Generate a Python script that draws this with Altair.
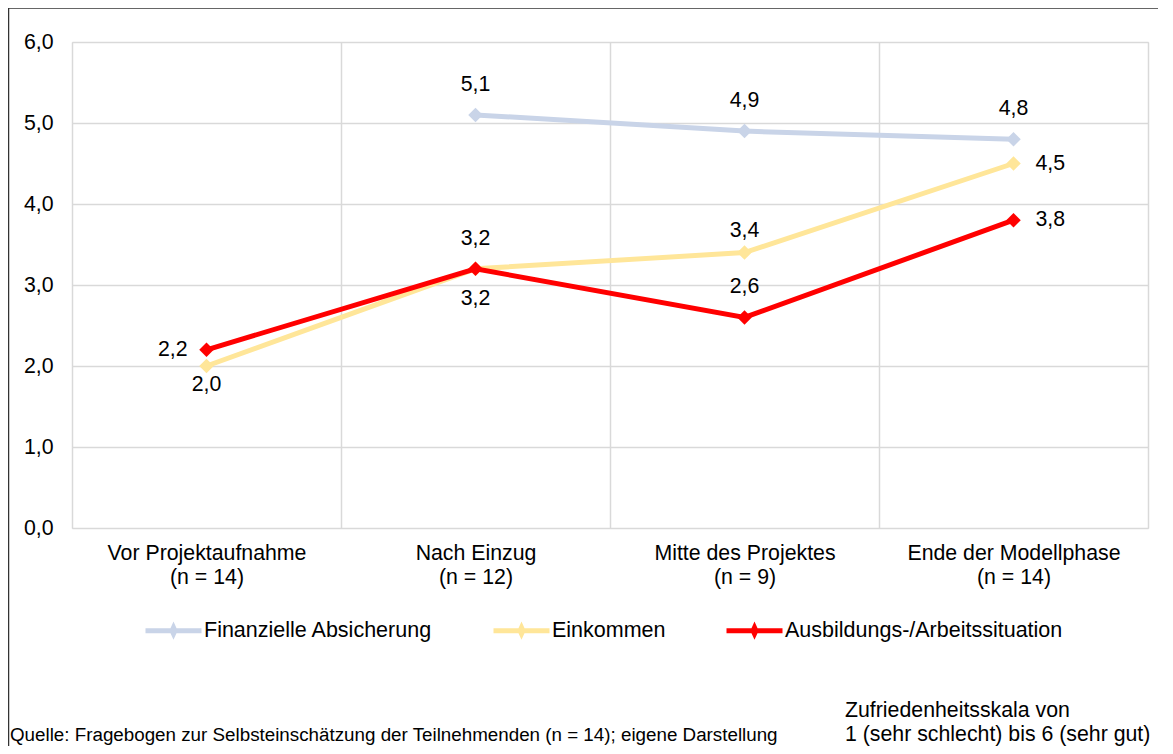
import altair as alt
import pandas as pd

# ---- data ----
categories = ["Vor Projektaufnahme", "Nach Einzug", "Mitte des Projektes", "Ende der Modellphase"]
n_labels = ["(n = 14)", "(n = 12)", "(n = 9)", "(n = 14)"]
series_names = ["Finanzielle Absicherung", "Einkommen", "Ausbildungs-/Arbeitssituation"]
finanzielle = [None, 5.1, 4.9, 4.8]
einkommen = [2.0, 3.2, 3.4, 4.5]
ausbildung = [2.2, 3.2, 2.6, 3.8]
y_ticks = [0, 1, 2, 3, 4, 5, 6]

# ---- styles ----
colors = ["#c9d4e8", "#ffe699", "#ff0000"]
FONT = "Liberation Sans"

# label placement per (series index, category index)
placement = {
    (0, 1): "above", (0, 2): "above", (0, 3): "above",
    (1, 0): "below_near", (1, 1): "below", (1, 2): "above_near", (1, 3): "right",
    (2, 0): "left", (2, 1): "above", (2, 2): "above", (2, 3): "right",
}
offsets = {
    "above": dict(dx=0, dy=-30, align="center"),
    "above_near": dict(dx=0, dy=-22, align="center"),
    "below": dict(dx=0, dy=30, align="center"),
    "below_near": dict(dx=0, dy=19, align="center"),
    "left": dict(dx=-19, dy=0, align="right"),
    "right": dict(dx=22, dy=0, align="left"),
}

cat_keys = [f"{c}|{n}" for c, n in zip(categories, n_labels)]
rows = []
for si, (name, vals) in enumerate(zip(series_names, [finanzielle, einkommen, ausbildung])):
    for ci, v in enumerate(vals):
        rows.append({"series": name, "cat": cat_keys[ci], "value": v,
                     "pos": placement.get((si, ci), "none")})
df = pd.DataFrame(rows)

color_scale = alt.Scale(domain=series_names, range=colors)
x_enc = alt.X("cat:N", sort=cat_keys, bandPosition=0.5,
              scale=alt.Scale(type="band", paddingInner=0, paddingOuter=0),
              axis=alt.Axis(title=None, labelAngle=0, labelFontSize=21.3, labelColor="#000000",
                            labelFont=FONT, labelPadding=14, labelLineHeight=24,
                            labelBaseline="top", labelLimit=0,
                            labelExpr="split(datum.label, '|')",
                            ticks=False, domain=False, grid=True, tickBand="extent",
                            gridColor="#d9d9d9", gridWidth=1.5))
y_enc = alt.Y("value:Q", scale=alt.Scale(domain=[0, 6], nice=False),
              axis=alt.Axis(title=None, values=y_ticks, labelFontSize=21.3, labelColor="#000000",
                            labelFont=FONT, labelPadding=19, ticks=False, domain=False,
                            labelExpr="replace(format(datum.value, '.1f'), '.', ',')",
                            gridColor="#d9d9d9", gridWidth=1.5))

legend = alt.Legend(title=None, orient="none", direction="horizontal", legendX=71, legendY=558,
                    symbolType="M-1,0L1,0M0,-0.11L0.05,0L0,0.11L-0.05,0Z",
                    symbolSize=3136, symbolStrokeWidth=5, labelFontSize=21.5, labelFont=FONT,
                    labelColor="#000000", labelOffset=0, columnPadding=50, symbolOpacity=1,
                    labelLimit=0)

base = alt.Chart(df)
layers = []
for i, name in enumerate(series_names):
    sub = base.transform_filter(alt.datum.series == name)
    c_enc = alt.Color("series:N", scale=color_scale, legend=legend if i == 0 else None)
    layers.append(sub.mark_line(strokeWidth=5).encode(x=x_enc, y=y_enc, color=c_enc))
    layers.append(sub.mark_point(shape="diamond", filled=True, size=210, opacity=1).encode(
        x=x_enc, y=y_enc, color=alt.Color("series:N", scale=color_scale, legend=None)))

for pos, o in offsets.items():
    layers.append(
        base.transform_filter(alt.datum.pos == pos)
        .transform_calculate(label="replace(format(datum.value, '.1f'), '.', ',')")
        .mark_text(fontSize=21.3, font=FONT, color="#000000", baseline="middle", **o)
        .encode(x=x_enc, y=y_enc, text="label:N")
    )

one = pd.DataFrame({"a": [0]})
frame_left = alt.Chart(one).mark_rule(color="#333333", strokeWidth=1.5).encode(
    x=alt.value(-63.5), y=alt.value(-34), y2=alt.value(760))
frame_top = alt.Chart(one).mark_rule(color="#333333", strokeWidth=1.5).encode(
    x=alt.value(-63.5), x2=alt.value(1200), y=alt.value(-34))
note_left = alt.Chart(one).mark_text(align="left", baseline="alphabetic", fontSize=18.8,
                                     font=FONT, color="#000000").encode(
    x=alt.value(-62), y=alt.value(699),
    text=alt.value("Quelle: Fragebogen zur Selbsteinschätzung der Teilnehmenden (n = 14); eigene Darstellung"))
note_right = alt.Chart(one).mark_text(align="left", baseline="alphabetic", fontSize=21.3, font=FONT,
                                      color="#000000", lineBreak="\n", lineHeight=24).encode(
    x=alt.value(773), y=alt.value(675),
    text=alt.value("Zufriedenheitsskala von\n1 (sehr schlecht) bis 6 (sehr gut)"))

chart = alt.layer(*layers, frame_left, frame_top, note_left, note_right).properties(
    width=1076, height=486,
    autosize=alt.AutoSizeParams(type="none"),
    padding={"left": 64, "top": 34, "right": 10, "bottom": 218},
).configure_view(stroke=None).configure(font=FONT, background="#ffffff")

chart.save("out.html", embed_options={"renderer": "svg", "actions": False})
